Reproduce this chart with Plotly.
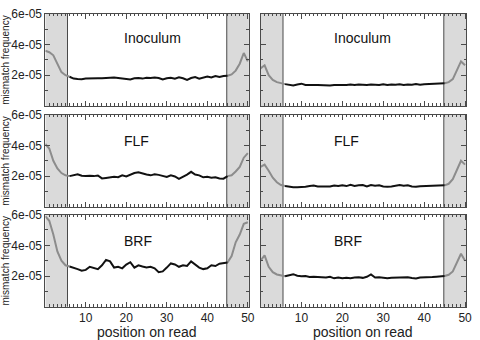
import plotly.graph_objects as go

POS = list(range(0, 51))
PANELS = ["Inoculum", "Inoculum", "FLF", "FLF", "BRF", "BRF"]

# mismatch frequency (x1e-5) at read positions 0..50
inoc_left = [3.6, 3.5, 3.3, 2.7, 2.2, 2.0,
             1.90, 1.78, 1.75, 1.74, 1.78, 1.80, 1.79, 1.81, 1.80, 1.82, 1.80, 1.85, 1.82, 1.80,
             1.78, 1.73, 1.80, 1.82, 1.78, 1.84, 1.82, 1.85, 1.82, 1.72, 1.80, 1.84, 1.78, 1.86,
             1.80, 1.70, 1.82, 1.88, 1.78, 1.86, 1.92, 1.85, 1.95, 1.88, 1.95, 1.97,
             2.05, 2.3, 2.75, 3.45, 2.9]
inoc_right = [2.45, 2.65, 2.0, 1.7, 1.55, 1.47,
              1.42, 1.38, 1.33, 1.40, 1.45, 1.36, 1.38, 1.36, 1.37, 1.35, 1.36, 1.33, 1.36, 1.38,
              1.37, 1.36, 1.39, 1.37, 1.40, 1.38, 1.36, 1.39, 1.38, 1.36, 1.41, 1.37, 1.40, 1.38,
              1.41, 1.37, 1.40, 1.38, 1.42, 1.38, 1.41, 1.43, 1.46, 1.45, 1.47, 1.48,
              1.55, 1.75, 2.3, 2.9, 2.65]
flf_left = [4.1, 3.8, 3.0, 2.5, 2.2, 2.05,
            2.0, 2.05, 2.12, 2.02, 2.0, 2.03, 2.0, 2.04, 1.85, 1.88, 1.92, 1.95, 1.93, 2.05,
            1.98, 2.1, 2.2, 2.25, 2.15, 2.1, 2.05, 2.12, 2.08, 2.0, 1.95, 2.05, 1.98, 1.82,
            1.95, 2.1, 2.28, 2.1, 2.05, 1.92, 1.95, 1.90, 1.93, 1.85, 1.83, 2.0,
            2.05, 2.3, 2.6, 3.2, 3.5]
flf_right = [2.6, 2.75, 2.35, 1.9, 1.6, 1.42,
             1.35, 1.30, 1.27, 1.28, 1.28, 1.30, 1.35, 1.38, 1.32, 1.33, 1.30, 1.32, 1.38, 1.35,
             1.40, 1.35, 1.43, 1.36, 1.40, 1.42, 1.33, 1.42, 1.38, 1.40, 1.32, 1.30, 1.33, 1.38,
             1.42, 1.38, 1.40, 1.32, 1.30, 1.34, 1.35, 1.33, 1.36, 1.37, 1.38, 1.40,
             1.5, 1.8, 2.4, 3.0, 2.75]
brf_left = [5.9, 5.6, 4.7, 3.6, 3.0, 2.7,
            2.62, 2.55, 2.45, 2.35, 2.4, 2.6, 2.5, 2.45, 2.7, 3.05, 2.95, 2.55, 2.6, 2.5,
            2.75, 2.9, 2.55, 2.7, 2.62, 2.55, 2.6, 2.5, 2.25, 2.3, 2.55, 2.82, 2.75, 2.6,
            2.7, 2.65, 2.95, 2.75, 2.55, 2.45, 2.5, 2.7, 2.65, 2.8, 2.85, 2.88,
            3.3, 4.2, 4.7, 5.4, 5.5]
brf_right = [3.0, 3.35, 2.6, 2.25, 2.1, 2.02,
             1.98, 2.05, 2.12, 2.02, 1.98, 2.0, 1.93, 1.95, 1.92, 1.93, 1.90, 1.95, 1.85, 1.9,
             1.85, 1.88, 1.86, 1.9, 1.92, 1.88, 1.95, 2.1, 1.9, 1.92, 1.87, 1.86, 1.88, 1.9,
             1.88, 1.9, 1.92, 1.87, 1.84, 1.9, 1.9, 1.92, 1.93, 1.95, 1.97, 2.0,
             2.08, 2.3, 2.9, 3.45, 3.0]

SERIES = [inoc_left, inoc_right, flf_left, flf_right, brf_left, brf_right]
SCALE = 1e-5
Y_TICKS = [2e-5, 4e-5, 6e-5]
Y_TICKTEXT = ["2e-05", "4e-05", "6e-05"]
X_TICKS = [10, 20, 30, 40, 50]
TRIM_LEFT = 5.5
TRIM_RIGHT = 44.8
BLACK_START, BLACK_END = 6, 45

W, H = 480, 340
XDOM = [(46 / W, 252 / W), (264 / W, 472 / W)]
ROWS_PX = [(7, 101), (110, 204), (212, 306)]
YDOM = [(1 - b / H, 1 - t / H) for t, b in ROWS_PX]

FONT = "Liberation Sans, Arial, Helvetica, sans-serif"
FRAME = "#4a4a4a"

fig = go.Figure()
layout = dict(
    width=W, height=H, margin=dict(l=0, r=0, t=0, b=0),
    paper_bgcolor="white", plot_bgcolor="white", showlegend=False,
    font=dict(family=FONT, color="#222", size=12),
)
shapes = []
annotations = []

for i, vals in enumerate(SERIES):
    r, c = divmod(i, 2)
    n = i + 1
    xa = "x" if n == 1 else f"x{n}"
    ya = "y" if n == 1 else f"y{n}"
    xkey = "xaxis" if n == 1 else f"xaxis{n}"
    ykey = "yaxis" if n == 1 else f"yaxis{n}"
    yv = [v * SCALE for v in vals]
    # gray trimmed ends
    fig.add_trace(go.Scatter(x=POS[:BLACK_START + 1], y=yv[:BLACK_START + 1], mode="lines",
                             line=dict(color="#8c8c8c", width=2), xaxis=xa, yaxis=ya,
                             hoverinfo="skip"))
    fig.add_trace(go.Scatter(x=POS[BLACK_END:], y=yv[BLACK_END:], mode="lines",
                             line=dict(color="#8c8c8c", width=2), xaxis=xa, yaxis=ya,
                             hoverinfo="skip"))
    fig.add_trace(go.Scatter(x=POS[BLACK_START:BLACK_END + 1], y=yv[BLACK_START:BLACK_END + 1],
                             mode="lines", line=dict(color="#111111", width=2),
                             xaxis=xa, yaxis=ya, hoverinfo="skip"))
    layout[xkey] = dict(
        domain=list(XDOM[c]), anchor=ya, range=[0.05, 50.25],
        tickmode="array", tickvals=X_TICKS, ticktext=[str(t) for t in X_TICKS],
        showticklabels=(r == 2), ticks="inside", ticklen=5, tickwidth=1, tickcolor=FRAME,
        minor=dict(ticks="inside", ticklen=2.5, dtick=1, tick0=0, tickcolor=FRAME, showgrid=False),
        showline=True, linecolor=FRAME, linewidth=1, mirror="ticks",
        showgrid=False, zeroline=False, tickfont=dict(size=12, color="#222"),
    )
    layout[ykey] = dict(
        domain=list(YDOM[r]), anchor=xa, range=[0, 6e-5],
        tickmode="array", tickvals=Y_TICKS, ticktext=Y_TICKTEXT,
        showticklabels=(c == 0), ticks="inside", ticklen=5, tickwidth=1, tickcolor=FRAME,
        minor=dict(ticks="inside", ticklen=2.5, dtick=1e-5, tick0=0, tickcolor=FRAME, showgrid=False),
        showline=True, linecolor=FRAME, linewidth=1, mirror="ticks",
        showgrid=False, zeroline=False, tickfont=dict(size=12, color="#222"),
    )
    # shaded trimmed regions
    for x0, x1 in [(0, TRIM_LEFT), (TRIM_RIGHT, 51)]:
        shapes.append(dict(type="rect", xref=xa, yref=f"{ya} domain", x0=x0, x1=x1, y0=0, y1=1,
                           fillcolor="#dadada", line=dict(width=0), layer="below"))
    for xv in [TRIM_LEFT, TRIM_RIGHT]:
        shapes.append(dict(type="line", xref=xa, yref=f"{ya} domain", x0=xv, x1=xv, y0=0, y1=1,
                           line=dict(color=FRAME, width=1), layer="below"))
    # panel label
    lx = 124 if c == 0 else 336
    ly = [32, 137, 239][r]
    annotations.append(dict(text=PANELS[i], xref="paper", yref="paper", x=lx / W, y=1 - ly / H,
                            xanchor="left", yanchor="middle", showarrow=False,
                            font=dict(size=14, color="#111")))
    if c == 0:
        cy = (ROWS_PX[r][0] + ROWS_PX[r][1]) / 2
        annotations.append(dict(text="mismatch frequency", xref="paper", yref="paper",
                                x=6 / W, y=1 - cy / H, textangle=-90, showarrow=False,
                                xanchor="center", yanchor="middle",
                                font=dict(size=10, color="#222")))
    if r == 2:
        cx = (XDOM[c][0] + XDOM[c][1]) / 2
        annotations.append(dict(text="position on read", xref="paper", yref="paper",
                                x=cx, y=0, showarrow=False, borderpad=0,
                                xanchor="center", yanchor="bottom", yshift=-1,
                                font=dict(size=14, color="#222")))

layout["shapes"] = shapes
layout["annotations"] = annotations
fig.update_layout(**layout)
fig.write_html("out.html")
